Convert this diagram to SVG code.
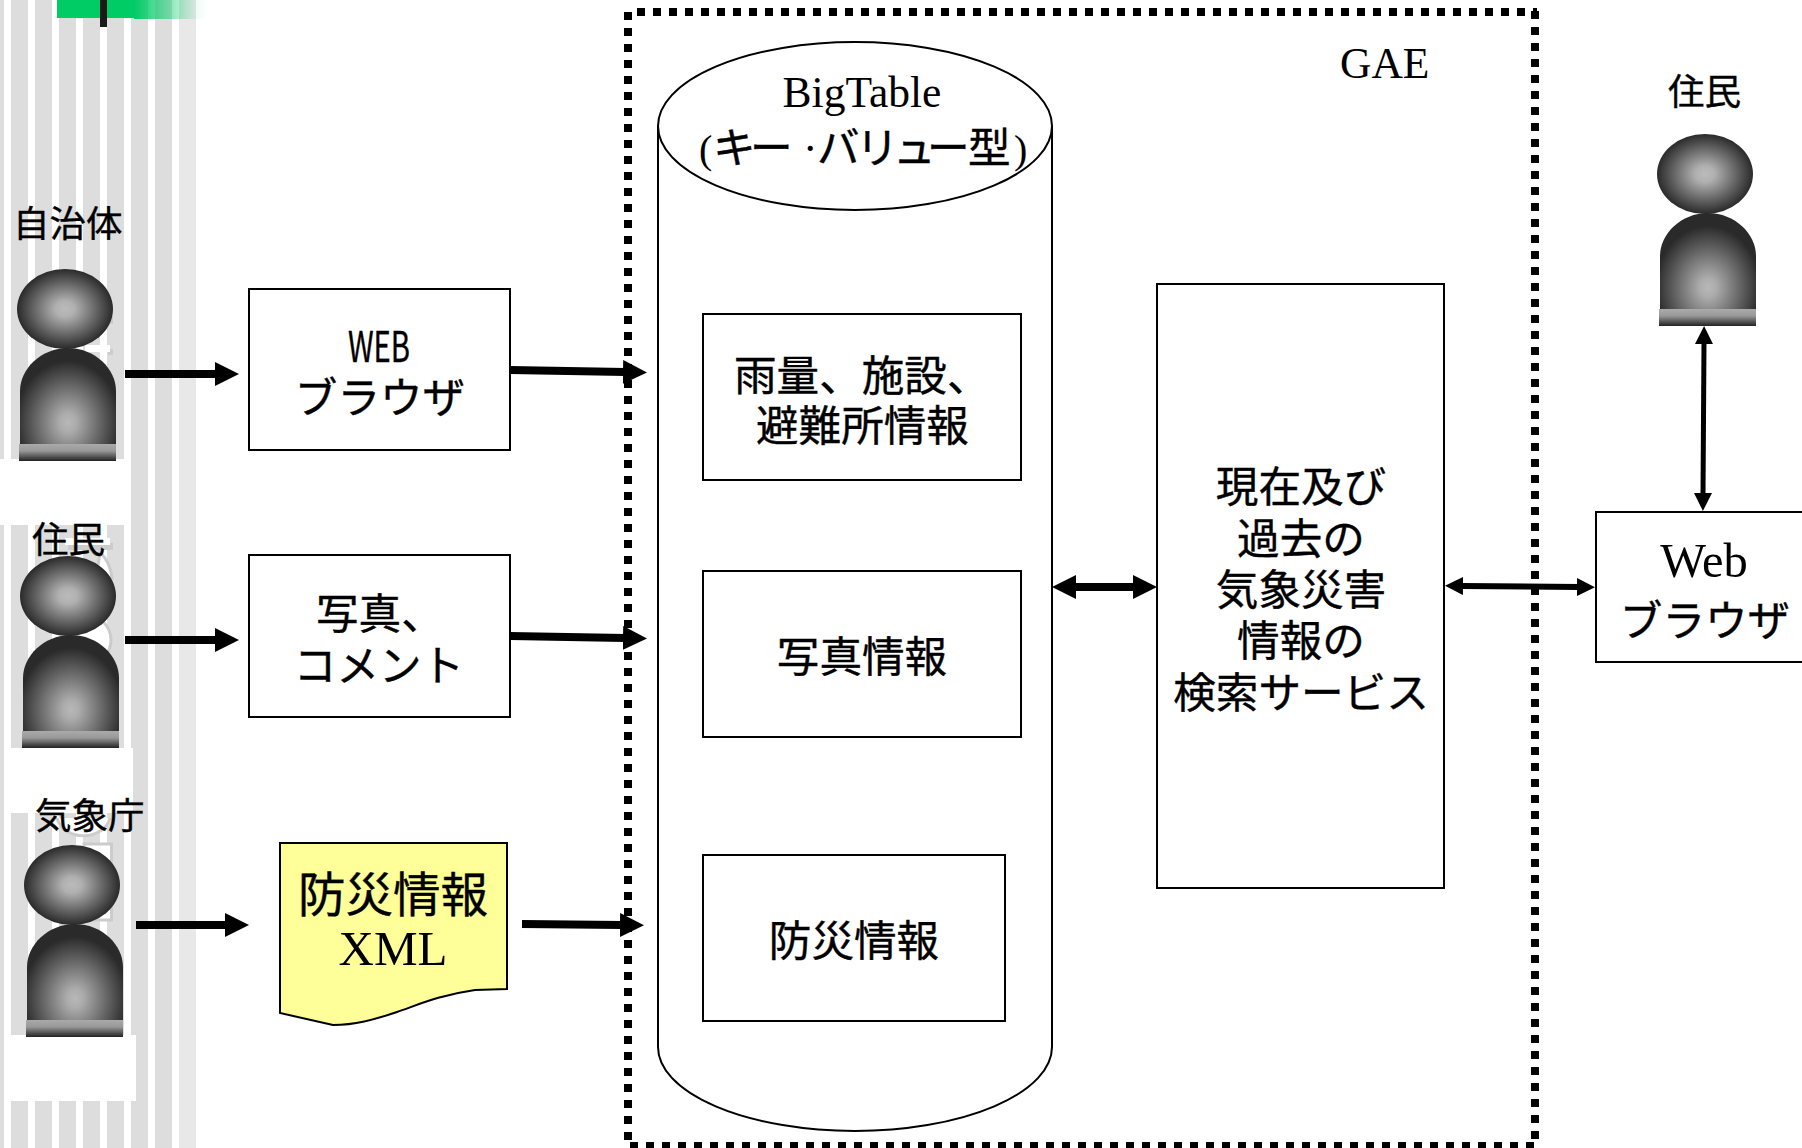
<svg xmlns="http://www.w3.org/2000/svg" width="1802" height="1148" viewBox="0 0 1802 1148">
<style>
.j{font-family:"Noto Sans CJK JP","Liberation Sans",sans-serif;font-size:42.6px;fill:#000;stroke:#000;stroke-width:.4}
.l{font-size:36.5px}
.s{font-family:"Liberation Serif","Noto Sans CJK JP",serif;font-size:43.500px;fill:#000;stroke:none}
.m{text-anchor:middle}
.b{fill:#fff;stroke:#000;stroke-width:2}
.st{fill:#ddd}
.th{fill:none;stroke:#000;stroke-width:8}
.th2{fill:none;stroke:#000;stroke-width:5}
.f{fill:none;stroke:#000;stroke-width:8;stroke-dasharray:8 8}
.gh{fill:#fff;stroke:#ccc;stroke-width:3}
</style>
<defs>
<radialGradient id="hg" cx=".5" cy=".5" r=".5"><stop offset="0" stop-color="#bbb"/><stop offset=".2" stop-color="#b0b0b0"/><stop offset="1" stop-color="#2a2a2a"/></radialGradient>
<radialGradient id="bg" cx=".5" cy=".66" r=".7"><stop offset="0" stop-color="#b8b8b8"/><stop offset=".12" stop-color="#acacac"/><stop offset=".78" stop-color="#2a2a2a"/></radialGradient>
<linearGradient id="fg" x1="0" y1="0" x2="0" y2="1"><stop offset="0" stop-color="#aaa"/><stop offset=".4" stop-color="#999"/><stop offset="1" stop-color="#222"/></linearGradient>
<linearGradient id="gg"><stop offset="0" stop-color="#00cc66"/><stop offset=".85" stop-color="#00cc66" stop-opacity=".06"/><stop offset="1" stop-color="#00cc66" stop-opacity="0"/></linearGradient>
<g id="person">
<ellipse cx="48" cy="40" rx="48" ry="40" fill="url(#hg)"/>
<path d="M3,192V122C3,100 24,79 51,79C78,79 99,100 99,122V192Z" fill="url(#bg)"/>
<rect x="2" y="175" width="97" height="17" fill="url(#fg)"/>
</g>
<marker id="ah" markerUnits="userSpaceOnUse" markerWidth="24" markerHeight="24" refX="2" refY="12" orient="auto"><path d="M0,0L24,12L0,24Z"/></marker>
<marker id="ahb" markerUnits="userSpaceOnUse" markerWidth="24" markerHeight="24" refX="22" refY="12" orient="auto"><path d="M24,0L0,12L24,24Z"/></marker>
<marker id="as" markerUnits="userSpaceOnUse" markerWidth="18" markerHeight="18" refX="2" refY="9" orient="auto"><path d="M0,0L18,9L0,18Z"/></marker>
<marker id="asb" markerUnits="userSpaceOnUse" markerWidth="18" markerHeight="18" refX="16" refY="9" orient="auto"><path d="M18,0L0,9L18,18Z"/></marker>
</defs>
<rect width="1802" height="1148" fill="#fff"/>
<g id="background">
<rect class="st" x="0" y="0" width="4" height="1148"/>
<rect class="st" x="11" y="0" width="17" height="1148"/>
<rect class="st" x="35" y="0" width="17" height="1148"/>
<rect class="st" x="59" y="0" width="17" height="1148"/>
<rect class="st" x="83" y="0" width="17" height="1148"/>
<rect class="st" x="107" y="0" width="17" height="1148"/>
<rect class="st" x="131" y="0" width="17" height="1148"/>
<rect class="st" x="155" y="0" width="17" height="1148"/>
<rect x="179" y="0" width="17" height="1148" fill="#e8e8e8"/>
<rect x="0" y="459" width="131" height="66" fill="#fff"/>
<rect x="4" y="748" width="129" height="65" fill="#fff"/>
<rect x="4" y="1035" width="132" height="66" fill="#fff"/>
<rect x="57" y="0" width="77" height="18" fill="#00cc66"/>
<rect x="134" y="0" width="74" height="19" fill="url(#gg)"/>
<rect x="100" y="0" width="7" height="27" fill="#1a1a1a"/>
<rect x="110" y="316" width="3" height="8" fill="#ccc"/>
<rect x="108" y="349" width="5" height="6" fill="#ccc"/>
<rect x="85" y="345" width="25" height="7" fill="#fff"/>
<rect x="68" y="543" width="45" height="7" fill="#ccc"/>
<rect x="65" y="538" width="45" height="7" fill="#fff"/>
<path class="gh" d="M100,552C108,560 111,568 112,578L96,580Z" stroke-width="2"/>
<ellipse class="gh" cx="88" cy="640" rx="23" ry="24"/>
<path d="M57,818A27,22 0 0 0 110,818Z" fill="#fff"/>
<path d="M57,818A27,22 0 0 0 110,818" fill="none" stroke="#ccc" stroke-width="3"/>
<path class="gh" d="M84,844H111.500V920H84Z"/>
</g>
<g id="gae-frame">
<path class="f" d="M637,12H1537"/>
<path class="f" d="M628,12V1148"/>
<path class="f" d="M1535,11V1140"/>
<path class="f" d="M630,1146H1535"/>
</g>
<g id="bigtable">
<path class="b" d="M658,126V1047A197,84 0 0 0 1052,1047V126"/>
<ellipse class="b" cx="855" cy="126" rx="197" ry="84"/>
<text class="s m" x="862" y="107">BigTable</text>
<text class="j" y="163"><tspan class="s" x="699" style="font-size:40px">(</tspan><tspan x="713">キ</tspan><tspan x="750">ー</tspan><tspan class="s" x="803">·</tspan><tspan x="817">バ</tspan><tspan x="856">リ</tspan><tspan x="893">ュ</tspan><tspan x="927">ー</tspan><tspan x="968">型</tspan><tspan class="s" x="1014" style="font-size:40px">)</tspan></text>
</g>
<g id="rain"><rect class="b" x="703" y="314" width="318" height="166"/><text class="j" x="734" y="391">雨量、施設、</text><text class="j" x="756" y="441">避難所情報</text></g>
<g id="photo-info"><rect class="b" x="703" y="571" width="318" height="166"/><text class="j m" x="862" y="672">写真情報</text></g>
<g id="disaster-info"><rect class="b" x="703" y="855" width="302" height="166"/><text class="j m" x="854" y="956">防災情報</text></g>
<g id="search"><rect class="b" x="1157" y="284" width="287" height="604"/>
<text class="j m" x="1301" y="502">現在及び</text><text class="j m" x="1301" y="554">過去の</text><text class="j m" x="1301" y="605">気象災害</text><text class="j m" x="1301" y="656">情報の</text><text class="j m" x="1301" y="708">検索サービス</text></g>
<g id="gae-label"><text class="s" x="1340" y="78">GAE</text></g>
<g id="browser-left"><rect class="b" x="249" y="289" width="261" height="161"/>
<text class="j m" x="379" y="362" textLength="62" lengthAdjust="spacingAndGlyphs">WEB</text><text class="j m" x="380" y="413">ブラウザ</text></g>
<g id="photo-comment"><rect class="b" x="249" y="555" width="261" height="162"/>
<text class="j" x="316" y="629">写真、</text><text class="j m" x="379" y="681">コメント</text></g>
<g id="xml"><path d="M280,843H507V989L475,990C440,995 420,1004 397,1012C373,1020 355,1025 333,1025L280,1013Z" fill="#ff9" stroke="#000" stroke-width="2"/>
<text class="j m" x="393" y="912" style="font-size:47.5px">防災情報</text><text class="s m" x="393" y="965" style="font-size:49px">XML</text></g>
<g id="browser-right"><rect class="b" x="1596" y="512" width="215" height="150"/>
<text class="s m" x="1704" y="577" style="font-size:48.5px">Web</text><text class="j m" x="1705" y="636">ブラウザ</text></g>
<g id="person-a"><use href="#person" x="17" y="269"/><text class="j l" x="13" y="237">自治体</text></g>
<g id="person-b"><use href="#person" x="20" y="556"/><text class="j l" x="32" y="553">住民</text></g>
<g id="person-c"><use href="#person" x="24" y="845"/><text class="j l" x="35" y="829">気象庁</text></g>
<g id="person-d"><use href="#person" x="1657" y="134"/><text class="j l" x="1668" y="105">住民</text></g>
<g id="connectors">
<path class="th" d="M125,374H217" marker-end="url(#ah)"/>
<path class="th" d="M125,640H217" marker-end="url(#ah)"/>
<path class="th" d="M136,925H227" marker-end="url(#ah)"/>
<path class="th" d="M510,370L625,372" marker-end="url(#ah)"/>
<path class="th" d="M510,636L625,638" marker-end="url(#ah)"/>
<path class="th" d="M522,924L622,925" marker-end="url(#ah)"/>
<path class="th" d="M1074,587H1135" marker-start="url(#ahb)" marker-end="url(#ah)"/>
<path class="th2" style="stroke-width:6" d="M1461,586L1579,587" marker-start="url(#asb)" marker-end="url(#as)"/>
<path class="th2" d="M1704,342L1703,495" marker-start="url(#asb)" marker-end="url(#as)"/>
</g>
</svg>
